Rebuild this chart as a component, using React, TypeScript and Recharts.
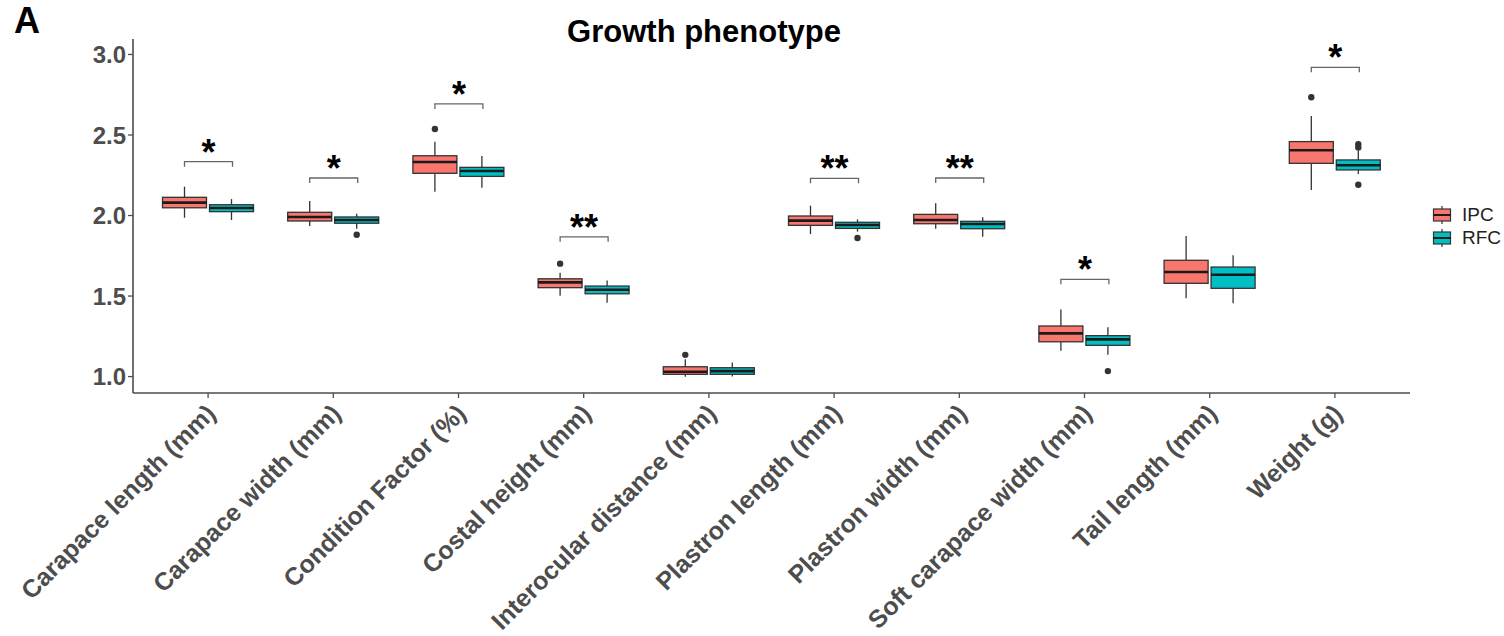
import React from 'react';
import { ComposedChart, Bar, XAxis, YAxis, Legend } from 'recharts';

const FONT = '"Liberation Sans", Arial, Helvetica, sans-serif';

const categories = [
  'Carapace length (mm)',
  'Carapace width (mm)',
  'Condition Factor (%)',
  'Costal height (mm)',
  'Interocular distance (mm)',
  'Plastron length (mm)',
  'Plastron width (mm)',
  'Soft carapace width (mm)',
  'Tail length (mm)',
  'Weight (g)',
];

// [lower whisker, Q1, median, Q3, upper whisker]
const ipcBoxes = [
  [1.986, 2.048, 2.08, 2.113, 2.179],
  [1.935, 1.966, 1.991, 2.02, 2.09],
  [2.148, 2.262, 2.332, 2.371, 2.458],
  [1.502, 1.552, 1.585, 1.607, 1.645],
  [0.999, 1.014, 1.03, 1.061, 1.107],
  [1.885, 1.939, 1.968, 1.997, 2.061],
  [1.918, 1.949, 1.972, 2.007, 2.076],
  [1.16, 1.216, 1.268, 1.314, 1.417],
  [1.486, 1.579, 1.649, 1.722, 1.873],
  [2.158, 2.324, 2.405, 2.459, 2.618],
];
const rfcBoxes = [
  [1.972, 2.024, 2.047, 2.067, 2.102],
  [1.918, 1.952, 1.972, 1.991, 2.011],
  [2.173, 2.243, 2.276, 2.299, 2.37],
  [1.458, 1.514, 1.539, 1.562, 1.597],
  [1.0, 1.014, 1.034, 1.055, 1.088],
  [1.9, 1.92, 1.941, 1.958, 1.976],
  [1.868, 1.918, 1.947, 1.964, 1.989],
  [1.135, 1.194, 1.231, 1.254, 1.306],
  [1.455, 1.548, 1.632, 1.68, 1.753],
  [2.258, 2.283, 2.312, 2.345, 2.402],
];
const ipcOutliers = [[], [], [2.537], [1.701], [1.135], [], [], [], [], [2.734]];
const rfcOutliers = [[], [1.881], [], [], [], [1.86], [], [1.034], [], [2.443, 2.422, 2.191]];

const significance = ['*', '*', '*', '**', '', '**', '**', '*', '', '*'];
const bracketLevels = [2.334, 2.233, 2.693, 1.868, null, 2.231, 2.233, 1.604, null, 2.92];

const yTicks = [1.0, 1.5, 2.0, 2.5, 3.0];

const IPC_COLOR = '#F8766D';
const RFC_COLOR = '#00BFC4';

const data = categories.map((name, i) => ({
  name,
  ipc: ipcBoxes[i],
  ipcOut: ipcOutliers[i],
  rfc: rfcBoxes[i],
  rfcOut: rfcOutliers[i],
  sig: significance[i],
  bracket: bracketLevels[i],
}));

// box drawn inside the whisker range bar; other stats mapped linearly between its ends
const BoxShape = (props: any) => {
  const { x, y, width, height, fill, group, index } = props;
  const entry = props.payload && props.payload[group] ? props.payload : data[index];
  const stats: number[] = entry[group];
  const outs: number[] = entry[group + 'Out'];
  const [lo, q1, med, q3, hi] = stats;
  const top = Math.min(y, y + height);
  const bottom = Math.max(y, y + height);
  const py = (v: number) => bottom - ((bottom - top) * (v - lo)) / (hi - lo);
  const cx = x + width / 2;
  return (
    <g>
      <line x1={cx} x2={cx} y1={py(hi)} y2={py(q3)} stroke="#333" strokeWidth={1.3} />
      <line x1={cx} x2={cx} y1={py(q1)} y2={py(lo)} stroke="#333" strokeWidth={1.3} />
      <rect x={x} y={py(q3)} width={width} height={py(q1) - py(q3)} fill={fill} stroke="#333" strokeWidth={1.3} />
      <line x1={x} x2={x + width} y1={py(med)} y2={py(med)} stroke="#1a1a1a" strokeWidth={2.6} />
      {outs.map((o, k) => (
        <circle key={k} cx={cx} cy={py(o)} r={3.2} fill="#333" />
      ))}
    </g>
  );
};

const BracketShape = (props: any) => {
  const { x, y, width, height, index } = props;
  const entry = props.payload && props.payload.name ? props.payload : data[index];
  if (!entry.sig) return null;
  const top = Math.min(y, y + height);
  const bottom = Math.max(y, y + height);
  return (
    <g>
      <path
        d={`M${x},${bottom} V${top} H${x + width} V${bottom}`}
        fill="none"
        stroke="#666"
        strokeWidth={1.3}
      />
      <text
        x={x + width / 2}
        y={top + 3}
        textAnchor="middle"
        fontSize={36}
        fontWeight="bold"
        fontFamily={FONT}
        fill="#000"
      >
        {entry.sig}
      </text>
    </g>
  );
};

const CategoryTick = ({ x, y, payload }: any) => {
  const tx = x + 9;
  const ty = y + 15;
  return (
    <text
      x={tx}
      y={ty}
      transform={`rotate(-45 ${tx} ${ty})`}
      textAnchor="end"
      fontSize={25}
      fontWeight="bold"
      fontFamily={FONT}
      fill="#4d4d4d"
    >
      {payload.value}
    </text>
  );
};

const LegendContent = ({ payload }: any) => (
  <div style={{ fontFamily: FONT }}>
    {(payload || [])
      .filter((item: any) => item.type !== 'none' && item.value !== 'sig')
      .map((item: any) => (
        <div key={item.value} style={{ display: 'flex', alignItems: 'center', height: 22.5 }}>
          <svg width={20} height={22} style={{ display: 'block' }}>
            <line x1={10} x2={10} y1={2} y2={20} stroke="#333" strokeWidth={1.2} />
            <rect x={1.5} y={5} width={17} height={12} fill={item.color} stroke="#333" strokeWidth={1.2} />
            <line x1={1.5} x2={18.5} y1={11} y2={11} stroke="#1a1a1a" strokeWidth={2} />
          </svg>
          <span style={{ marginLeft: 10, fontSize: 19, color: '#222' }}>{item.value}</span>
        </div>
      ))}
  </div>
);

const App: React.FC = () => {
  return (
    <div style={{ position: 'absolute', left: 0, top: 0, width: 1504, height: 636, background: '#fff' }}>
      <div
        style={{
          position: 'absolute',
          left: 14,
          top: 3,
          fontFamily: FONT,
          fontWeight: 'bold',
          fontSize: 36,
          lineHeight: 1,
          color: '#000',
        }}
      >
        A
      </div>
      <div
        style={{
          position: 'absolute',
          left: 404,
          width: 600,
          top: 16,
          textAlign: 'center',
          fontFamily: FONT,
          fontWeight: 'bold',
          fontSize: 31,
          lineHeight: 1,
          color: '#000',
        }}
      >
        Growth phenotype
      </div>
      <ComposedChart
        width={1504}
        height={636}
        data={data}
        margin={{ top: 39, right: 94, bottom: 13, left: 73 }}
        barGap={3}
        style={{ fontFamily: FONT }}
      >
        <XAxis
          xAxisId="box"
          dataKey="name"
          type="category"
          interval={0}
          height={230}
          padding={{ left: 12.5, right: 12.5 }}
          tickSize={5}
          tickMargin={2}
          tick={<CategoryTick />}
          axisLine={{ stroke: '#4d4d4d', strokeWidth: 1.6 }}
          tickLine={{ stroke: '#4d4d4d', strokeWidth: 1.3 }}
        />
        <XAxis xAxisId="sig" dataKey="name" type="category" hide padding={{ left: 12.5, right: 12.5 }} />
        <YAxis
          type="number"
          domain={[0.898, 3.096]}
          allowDataOverflow
          ticks={yTicks}
          width={60}
          tickSize={5}
          tickMargin={2}
          tickFormatter={(v: number) => v.toFixed(1)}
          tick={{ fontSize: 24, fontWeight: 'bold', fill: '#4d4d4d', fontFamily: FONT }}
          axisLine={{ stroke: '#4d4d4d', strokeWidth: 1.6 }}
          tickLine={{ stroke: '#4d4d4d', strokeWidth: 1.3 }}
        />
        <Legend
          layout="vertical"
          align="center"
          verticalAlign="middle"
          content={<LegendContent />}
          wrapperStyle={{ left: 1432, top: 204, width: 70 }}
        />
        <Bar
          xAxisId="box"
          name="IPC"
          dataKey={(d: any) => [d.ipc[0], d.ipc[4]]}
          fill={IPC_COLOR}
          barSize={44}
          isAnimationActive={false}
          shape={(p: any) => <BoxShape {...p} group="ipc" />}
        />
        <Bar
          xAxisId="box"
          name="RFC"
          dataKey={(d: any) => [d.rfc[0], d.rfc[4]]}
          fill={RFC_COLOR}
          barSize={44}
          isAnimationActive={false}
          shape={(p: any) => <BoxShape {...p} group="rfc" />}
        />
        <Bar
          xAxisId="sig"
          name="sig"
          legendType="none"
          dataKey={(d: any) => (d.bracket == null ? [1, 1] : [d.bracket - 0.031, d.bracket])}
          fill="none"
          barSize={48}
          isAnimationActive={false}
          shape={(p: any) => <BracketShape {...p} />}
        />
      </ComposedChart>
    </div>
  );
};

export default App;
